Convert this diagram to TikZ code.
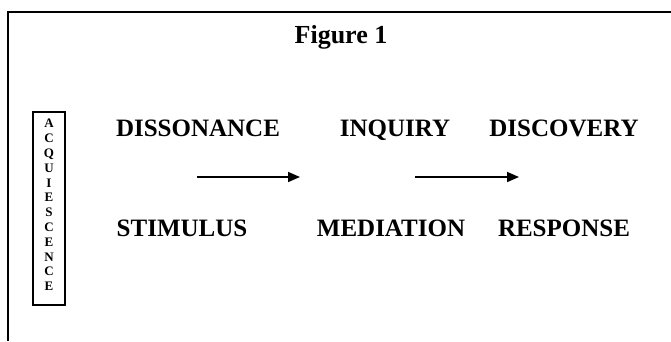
\documentclass[tikz,border=0pt]{standalone}
\usepackage{fontspec}
\setmainfont{Liberation Serif}
\usetikzlibrary{arrows.meta}
\tikzset{
  x=1pt, y=1pt,
  frameline/.style={line width=1.8pt, black},
  word/.style={font=\fontsize{25}{29}\selectfont\bfseries, anchor=base, inner sep=0pt},
  titletext/.style={font=\fontsize{26}{30}\selectfont\bfseries, anchor=base, inner sep=0pt},
  vbox/.style={draw, line width=1.5pt, minimum width=32pt, minimum height=193pt, inner sep=0pt},
  vletters/.style={font=\fontsize{13}{14.8}\selectfont\bfseries, align=center, inner sep=0pt},
  flow/.style={line width=1.7pt, -{Triangle[length=12pt,width=10pt]}}
}
\begin{document}
\begin{tikzpicture}
\useasboundingbox (0,0) rectangle (671,-341);
% frame
\coordinate (ftl) at (8,-12);
\coordinate (ftr) at (671,-12);
\coordinate (fbl) at (8,-341);
\draw[frameline] (ftr) -- (ftl) -- (fbl);
% title
\node[titletext] (title) at (341,-43) {Figure 1};
% acquiescence box
\node[vbox] (acq) at (49,-208.5) {};
\node[vletters] (acqtext) at (49,-205) {A\\C\\Q\\U\\I\\E\\S\\C\\E\\N\\C\\E};
% top row
\node[word] (diss) at (198,-136) {DISSONANCE};
\node[word] (inq) at (395,-136) {INQUIRY};
\node[word] (disc) at (564,-136) {DISCOVERY};
% bottom row
\node[word] (stim) at (182,-236) {STIMULUS};
\node[word] (med) at (391,-236) {MEDIATION};
\node[word] (resp) at (564,-236) {RESPONSE};
% arrows
\coordinate (a1s) at (197,-177);
\coordinate (a1e) at (300,-177);
\coordinate (a2s) at (415,-177);
\coordinate (a2e) at (519,-177);
\draw[flow] (a1s) -- (a1e);
\draw[flow] (a2s) -- (a2e);
\end{tikzpicture}
\end{document}
